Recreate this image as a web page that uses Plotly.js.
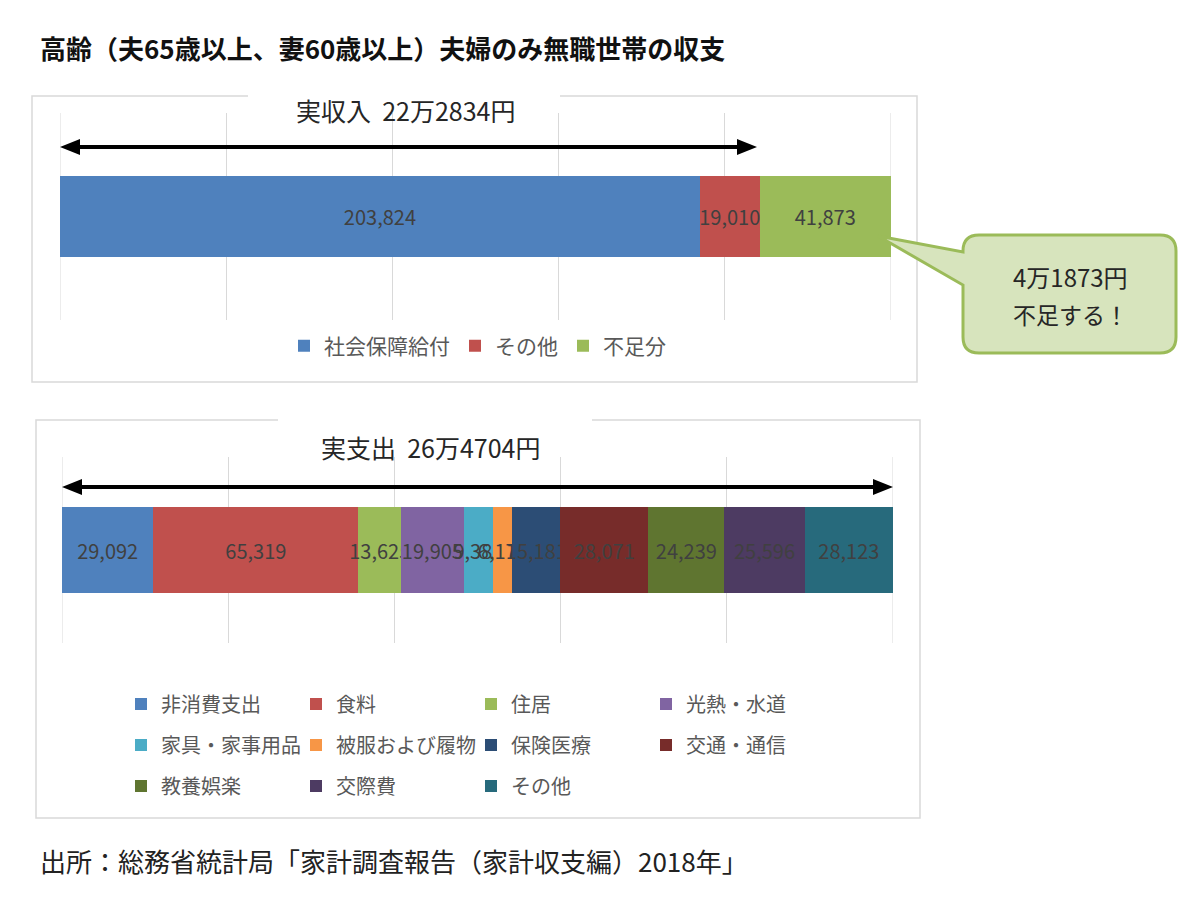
<!DOCTYPE html>
<html>
<head>
<meta charset="utf-8">
<script src="https://cdn.plot.ly/plotly-3.0.1.min.js"></script>
<style>html,body{margin:0;padding:0;background:#fff;}#chart{width:1200px;height:905px;}</style>
</head>
<body>
<div id="chart"></div>
<script>
// ---- data ----
const incomeCategories = ["社会保障給付", "その他", "不足分"];
const incomeValues = [203824, 19010, 41873];
const incomeColors = ["#4F81BD", "#C0504D", "#9BBB59"];

const expenseCategories = ["非消費支出", "食料", "住居", "光熱・水道", "家具・家事用品", "被服および履物", "保険医療", "交通・通信", "教養娯楽", "交際費", "その他"];
const expenseValues = [29092, 65319, 13625, 19905, 9385, 6171, 15181, 28071, 24239, 25596, 28123];
const expenseColors = ["#4F81BD", "#C0504D", "#9BBB59", "#8064A2", "#4BACC6", "#F79646", "#2C4D75", "#772C2A", "#5F7530", "#4D3B62", "#276A7C"];
const expenseLegendRows = ["legend2", "legend2", "legend2", "legend2", "legend3", "legend3", "legend3", "legend3", "legend4", "legend4", "legend4"];

const chartTitle = "高齢（夫65歳以上、妻60歳以上）夫婦のみ無職世帯の収支";
const incomeTitle = "実収入\u00a0\u00a022万2834円";
const expenseTitle = "実支出\u00a0\u00a026万4704円";
const calloutLines = ["4万1873円", "不足する！"];
const sourceText = "出所：総務省統計局「家計調査報告（家計収支編）2018年」";

// ---- helpers (pixel -> paper) ----
const W = 1200, H = 905;
const px = x => x / W;
const py = y => 1 - y / H;
const FONT = "Noto Sans CJK JP, Noto Sans, sans-serif";
const fmt = v => v.toLocaleString("en-US");

const traces = [];
incomeCategories.forEach((name, i) => {
  traces.push({
    type: "bar", orientation: "h", name: name,
    x: [incomeValues[i]], y: ["収入"],
    xaxis: "x", yaxis: "y",
    width: 0.396,
    marker: {color: incomeColors[i], line: {width: 0}},
    text: [fmt(incomeValues[i])], textposition: "inside", insidetextanchor: "middle",
    textangle: 0, constraintext: "none",
    insidetextfont: {family: FONT, size: 20, color: "#404040"},
    hoverinfo: "skip", legend: "legend"
  });
});
expenseCategories.forEach((name, i) => {
  traces.push({
    type: "bar", orientation: "h", name: name,
    x: [expenseValues[i]], y: ["支出"],
    xaxis: "x2", yaxis: "y2",
    width: 0.462,
    marker: {color: expenseColors[i], line: {width: 0}},
    text: [fmt(expenseValues[i])], textposition: "inside", insidetextanchor: "middle",
    textangle: 0, constraintext: "none",
    insidetextfont: {family: FONT, size: 20, color: "#404040"},
    hoverinfo: "skip", legend: expenseLegendRows[i]
  });
});

const axX = (domain, anchor) => ({
  domain: domain, anchor: anchor, range: [0, 100], dtick: 20, tick0: 0,
  showgrid: true, gridcolor: "#d9d9d9", gridwidth: 1, zeroline: false,
  showline: false, showticklabels: false, ticks: "", fixedrange: true
});
const axY = (domain, anchor) => ({
  domain: domain, anchor: anchor, type: "category", showgrid: false, zeroline: false,
  showline: false, showticklabels: false, ticks: "", fixedrange: true
});

const legendBase = (x, y, entrywidth, size) => ({
  orientation: "h", x: px(x), y: py(y), xanchor: "left", yanchor: "middle",
  font: {family: FONT, size: size, color: "#595959"}, bgcolor: "rgba(0,0,0,0)",
  entrywidth: entrywidth, itemclick: false, itemdoubleclick: false, traceorder: "normal"
});

function roundedCallout(x0, y0, x1, y1, r, tailTop, tailBot, tipX, tipY) {
  const P = (x, y) => px(x) + "," + py(y);
  return "M" + P(x0 + r, y0) +
    " L" + P(x1 - r, y0) + " Q" + P(x1, y0) + " " + P(x1, y0 + r) +
    " L" + P(x1, y1 - r) + " Q" + P(x1, y1) + " " + P(x1 - r, y1) +
    " L" + P(x0 + r, y1) + " Q" + P(x0, y1) + " " + P(x0, y1 - r) +
    " L" + P(x0, tailBot) + " L" + P(tipX, tipY) + " L" + P(x0, tailTop) +
    " L" + P(x0, y0 + r) + " Q" + P(x0, y0) + " " + P(x0 + r, y0) + " Z";
}
function tri(points) {
  return "M" + points.map(p => px(p[0]) + "," + py(p[1])).join(" L") + " Z";
}
const edgeGrid = (xr, yr, xv) => ({type: "line", xref: xr, yref: yr + " domain", x0: xv, x1: xv, y0: 0, y1: 1,
  line: {color: "#d9d9d9", width: 1}, layer: "below"});

const shapes = [
  // boxes
  {type: "rect", xref: "paper", yref: "paper", x0: px(32), x1: px(917), y0: py(382), y1: py(96),
   line: {color: "#d9d9d9", width: 1.5}, fillcolor: "#ffffff", layer: "below"},
  {type: "rect", xref: "paper", yref: "paper", x0: px(248), x1: px(560), y0: py(100), y1: py(92),
   line: {width: 0}, fillcolor: "#ffffff", layer: "below"},
  {type: "rect", xref: "paper", yref: "paper", x0: px(36), x1: px(920), y0: py(818), y1: py(420),
   line: {color: "#d9d9d9", width: 1.5}, fillcolor: "#ffffff", layer: "below"},
  {type: "rect", xref: "paper", yref: "paper", x0: px(278), x1: px(592), y0: py(424), y1: py(416),
   line: {width: 0}, fillcolor: "#ffffff", layer: "below"},
  // edge gridlines at 0% and 100%
  edgeGrid("x", "y", 0), edgeGrid("x", "y", 100),
  edgeGrid("x2", "y2", 0), edgeGrid("x2", "y2", 100),
  // top arrow
  {type: "line", xref: "paper", yref: "paper", x0: px(74), x1: px(743), y0: py(147), y1: py(147),
   line: {color: "#000", width: 4}},
  {type: "path", xref: "paper", yref: "paper", path: tri([[60, 147], [80, 139], [80, 155]]),
   fillcolor: "#000", line: {width: 0}},
  {type: "path", xref: "paper", yref: "paper", path: tri([[757, 147], [737, 139], [737, 155]]),
   fillcolor: "#000", line: {width: 0}},
  // bottom arrow
  {type: "line", xref: "paper", yref: "paper", x0: px(76), x1: px(879), y0: py(487), y1: py(487),
   line: {color: "#000", width: 4}},
  {type: "path", xref: "paper", yref: "paper", path: tri([[62, 487], [82, 479], [82, 495]]),
   fillcolor: "#000", line: {width: 0}},
  {type: "path", xref: "paper", yref: "paper", path: tri([[893, 487], [873, 479], [873, 495]]),
   fillcolor: "#000", line: {width: 0}},
  // callout
  {type: "path", xref: "paper", yref: "paper",
   path: roundedCallout(963, 235, 1176, 353, 16, 252, 285, 878, 236),
   fillcolor: "#d7e4bd", line: {color: "#9bbb59", width: 3}, layer: "above"}
];

const annotations = [
  {text: "<b>" + chartTitle + "</b>", xref: "paper", yref: "paper", x: px(38), y: py(47),
   xanchor: "left", yanchor: "middle", showarrow: false, font: {family: FONT, size: 26, color: "#111"}},
  {text: incomeTitle, xref: "paper", yref: "paper", x: px(405), y: py(110),
   xanchor: "center", yanchor: "middle", showarrow: false, font: {family: FONT, size: 25, color: "#262626"}},
  {text: expenseTitle, xref: "paper", yref: "paper", x: px(430), y: py(447),
   xanchor: "center", yanchor: "middle", showarrow: false, font: {family: FONT, size: 25, color: "#262626"}},
  {text: calloutLines[0], xref: "paper", yref: "paper", x: px(1070), y: py(276),
   xanchor: "center", yanchor: "middle", showarrow: false, font: {family: FONT, size: 24, color: "#262626"}},
  {text: calloutLines[1], xref: "paper", yref: "paper", x: px(1070), y: py(314),
   xanchor: "center", yanchor: "middle", showarrow: false, font: {family: FONT, size: 23, color: "#262626"}},
  {text: sourceText, xref: "paper", yref: "paper", x: px(38), y: py(860),
   xanchor: "left", yanchor: "middle", showarrow: false, font: {family: FONT, size: 26, color: "#222"}}
];

const layout = {
  width: W, height: H,
  margin: {l: 0, r: 0, t: 0, b: 0, pad: 0},
  paper_bgcolor: "#ffffff", plot_bgcolor: "rgba(0,0,0,0)",
  font: {family: FONT, color: "#404040"},
  barmode: "stack", barnorm: "percent",
  showlegend: true,
  xaxis: axX([px(60), px(891)], "y"),
  yaxis: axY([py(320), py(113)], "x"),
  xaxis2: axX([px(62), px(893)], "y2"),
  yaxis2: axY([py(643), py(457)], "x2"),
  legend: legendBase(284, 346, 0, 21),
  legend2: legendBase(121, 704, 130, 20),
  legend3: legendBase(121, 745, 130, 20),
  legend4: legendBase(121, 786, 130, 20),
  shapes: shapes,
  annotations: annotations
};

Plotly.newPlot("chart", traces, layout, {staticPlot: true, displayModeBar: false});
</script>
</body>
</html>
